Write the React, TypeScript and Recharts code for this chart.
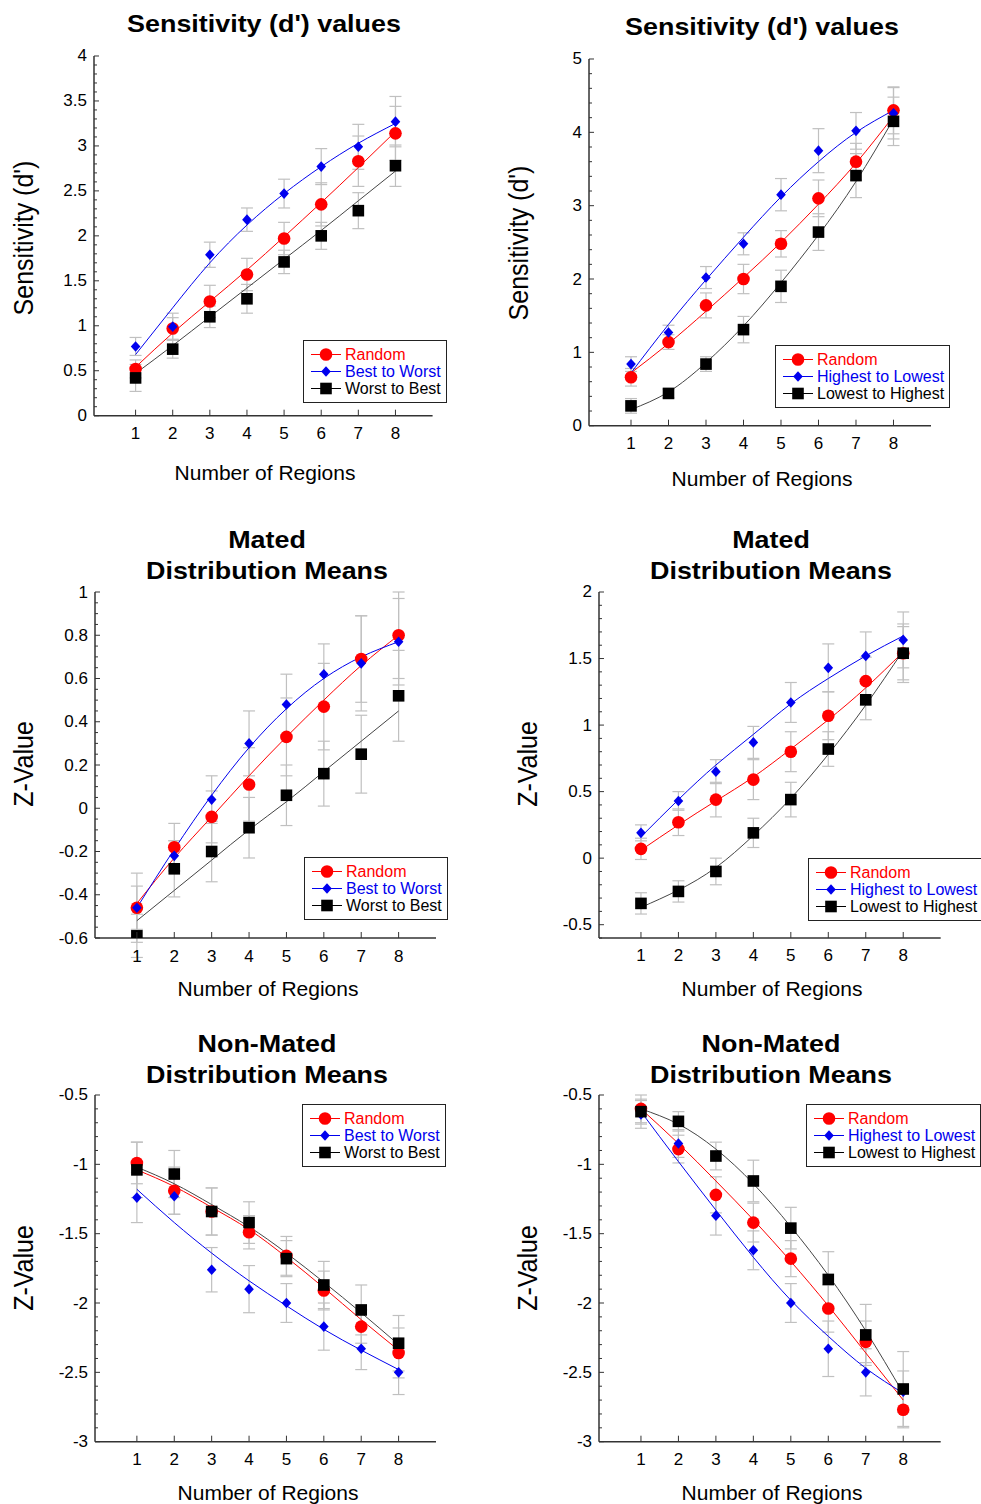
import React from "react";
import {
  ComposedChart,
  Line,
  Scatter,
  XAxis,
  YAxis,
  ErrorBar,
  Legend,
} from "recharts";

const FONT = '"Liberation Sans", Arial, Helvetica, sans-serif';
const RED = "#ff0000";
const BLUE = "#0000ee";
const BLACK = "#000000";
const ERR = "#c0c0c0";
const AXIS = "#333333";

const regions = [1, 2, 3, 4, 5, 6, 7, 8];

// Sensitivity, best / worst ordering
const aRandom = [0.52, 0.97, 1.27, 1.57, 1.97, 2.35, 2.83, 3.14];
const aRandomErr = [0.1, 0.12, 0.18, 0.18, 0.18, 0.24, 0.28, 0.3];
const aRandomFit = [0.54, 0.92, 1.27, 1.62, 1.99, 2.37, 2.76, 3.16];
const aBest = [0.77, 0.99, 1.79, 2.18, 2.47, 2.77, 2.99, 3.27];
const aBestErr = [0.1, 0.15, 0.14, 0.13, 0.16, 0.2, 0.25, 0.28];
const aBestFit = [0.68, 1.2, 1.7, 2.12, 2.47, 2.77, 3.03, 3.25];
const aWorst = [0.42, 0.74, 1.1, 1.3, 1.71, 2.0, 2.28, 2.78];
const aWorstErr = [0.15, 0.1, 0.12, 0.16, 0.13, 0.15, 0.2, 0.23];
const aWorstFit = [0.47, 0.78, 1.1, 1.42, 1.74, 2.06, 2.39, 2.72];

// Sensitivity, highest / lowest ordering
const bRandom = [0.66, 1.14, 1.64, 2.0, 2.48, 3.1, 3.6, 4.3];
const bRandomErr = [0.12, 0.1, 0.17, 0.2, 0.18, 0.25, 0.25, 0.32];
const bRandomFit = [0.72, 1.12, 1.56, 2.02, 2.5, 3.02, 3.58, 4.22];
const bHigh = [0.84, 1.27, 2.02, 2.48, 3.15, 3.75, 4.02, 4.26];
const bHighErr = [0.1, 0.1, 0.15, 0.15, 0.22, 0.3, 0.25, 0.35];
const bHighFit = [0.72, 1.38, 1.99, 2.57, 3.12, 3.6, 4.0, 4.3];
const bLow = [0.27, 0.44, 0.84, 1.31, 1.9, 2.64, 3.41, 4.15];
const bLowErr = [0.1, 0.06, 0.1, 0.18, 0.22, 0.25, 0.3, 0.33];
const bLowFit = [0.22, 0.46, 0.86, 1.36, 1.95, 2.6, 3.33, 4.18];

// Mated means, best / worst
const cRandom = [-0.46, -0.18, -0.04, 0.11, 0.33, 0.47, 0.69, 0.8];
const cRandomErr = [0.16, 0.11, 0.12, 0.17, 0.18, 0.2, 0.2, 0.2];
const cRandomFit = [-0.44, -0.23, -0.04, 0.15, 0.33, 0.5, 0.66, 0.8];
const cBest = [-0.46, -0.22, 0.04, 0.3, 0.48, 0.62, 0.67, 0.77];
const cBestErr = [0.1, 0.07, 0.11, 0.15, 0.14, 0.14, 0.22, 0.2];
const cBestFit = [-0.46, -0.19, 0.06, 0.28, 0.46, 0.6, 0.7, 0.77];
const cWorst = [-0.59, -0.28, -0.2, -0.09, 0.06, 0.16, 0.25, 0.52];
const cWorstErr = [0.1, 0.13, 0.14, 0.14, 0.14, 0.15, 0.18, 0.21];
const cWorstFit = [-0.52, -0.38, -0.24, -0.1, 0.03, 0.17, 0.31, 0.45];

// Mated means, highest / lowest
const dRandom = [0.07, 0.27, 0.44, 0.59, 0.8, 1.07, 1.33, 1.54];
const dRandomErr = [0.08, 0.1, 0.13, 0.15, 0.15, 0.18, 0.18, 0.2];
const dRandomFit = [0.06, 0.25, 0.43, 0.61, 0.82, 1.04, 1.28, 1.55];
const dHigh = [0.19, 0.43, 0.65, 0.87, 1.17, 1.43, 1.52, 1.64];
const dHighErr = [0.06, 0.07, 0.09, 0.12, 0.15, 0.18, 0.18, 0.21];
const dHighFit = [0.16, 0.44, 0.7, 0.93, 1.16, 1.35, 1.52, 1.67];
const dLow = [-0.34, -0.25, -0.1, 0.19, 0.44, 0.82, 1.19, 1.54];
const dLowErr = [0.08, 0.08, 0.1, 0.11, 0.13, 0.13, 0.15, 0.22];
const dLowFit = [-0.37, -0.24, -0.07, 0.17, 0.45, 0.78, 1.15, 1.56];

// Non-mated means, best / worst
const eRandom = [-0.99, -1.19, -1.34, -1.49, -1.66, -1.91, -2.17, -2.36];
const eRandomErr = [0.15, 0.17, 0.17, 0.12, 0.14, 0.14, 0.12, 0.18];
const eRandomFit = [-1.04, -1.16, -1.31, -1.47, -1.67, -1.89, -2.12, -2.34];
const eBest = [-1.24, -1.23, -1.76, -1.9, -2.0, -2.17, -2.33, -2.5];
const eBestErr = [0.18, 0.13, 0.16, 0.17, 0.14, 0.17, 0.15, 0.16];
const eBestFit = [-1.18, -1.42, -1.64, -1.84, -2.02, -2.19, -2.34, -2.48];
const eWorst = [-1.04, -1.07, -1.34, -1.42, -1.68, -1.87, -2.05, -2.29];
const eWorstErr = [0.2, 0.17, 0.17, 0.15, 0.13, 0.17, 0.18, 0.2];
const eWorstFit = [-1.02, -1.14, -1.29, -1.45, -1.64, -1.85, -2.07, -2.3];

// Non-mated means, highest / lowest
const fRandom = [-0.6, -0.89, -1.22, -1.42, -1.68, -2.04, -2.28, -2.77];
const fRandomErr = [0.1, 0.1, 0.13, 0.14, 0.13, 0.17, 0.15, 0.13];
const fRandomFit = [-0.6, -0.85, -1.12, -1.4, -1.7, -2.02, -2.36, -2.7];
const fHigh = [-0.64, -0.85, -1.37, -1.62, -2.0, -2.33, -2.5, -2.64];
const fHighErr = [0.1, 0.1, 0.14, 0.14, 0.14, 0.2, 0.17, 0.15];
const fHighFit = [-0.62, -0.98, -1.33, -1.67, -1.98, -2.24, -2.47, -2.65];
const fLow = [-0.62, -0.69, -0.94, -1.12, -1.46, -1.83, -2.23, -2.62];
const fLowErr = [0.09, 0.07, 0.1, 0.15, 0.15, 0.2, 0.22, 0.27];
const fLowFit = [-0.6, -0.71, -0.89, -1.14, -1.45, -1.8, -2.2, -2.65];

// y tick labels
const sensTicksA = [0, 0.5, 1, 1.5, 2, 2.5, 3, 3.5, 4];
const sensTicksB = [0, 1, 2, 3, 4, 5];
const matedTicksC = [-0.6, -0.4, -0.2, 0, 0.2, 0.4, 0.6, 0.8, 1];
const matedTicksD = [-0.5, 0, 0.5, 1, 1.5, 2];
const nonMatedTicks = [-3, -2.5, -2, -1.5, -1, -0.5];

type Kind = "circle" | "diamond" | "square";
type Series = {
  name: string;
  color: string;
  fitColor: string;
  kind: Kind;
  values: number[];
  errors: number[];
  fit: number[];
};

function marker(kind: Kind, cx: number, cy: number, color: string) {
  if (kind === "circle") return <circle cx={cx} cy={cy} r={6.3} fill={color} />;
  if (kind === "diamond")
    return (
      <polygon
        points={`${cx},${cy - 5.3} ${cx + 4.8},${cy} ${cx},${cy + 5.3} ${cx - 4.8},${cy}`}
        fill={color}
      />
    );
  return <rect x={cx - 5.8} y={cy - 5.8} width={11.6} height={11.6} fill={color} />;
}

const fmt = (v: number) => (Math.abs(v) < 1e-9 ? "0" : String(v));

function YTick(props: any) {
  const { x, y, payload, major } = props;
  const v = payload.value;
  const isMajor = major.some((m: number) => Math.abs(m - v) < 1e-6);
  return (
    <g>
      <line x1={x} x2={x + (isMajor ? 5 : 3)} y1={y} y2={y} stroke={AXIS} />
      {isMajor && (
        <text
          x={x - 7}
          y={y}
          textAnchor="end"
          dominantBaseline="central"
          fontSize={17}
          fontFamily={FONT}
          fill="#000"
        >
          {fmt(v)}
        </text>
      )}
    </g>
  );
}

function XTick(props: any) {
  const { x, y, payload } = props;
  return (
    <g>
      <line x1={x} x2={x} y1={y} y2={y - 6} stroke={AXIS} />
      <text
        x={x}
        y={y + 18}
        textAnchor="middle"
        dominantBaseline="central"
        fontSize={17}
        fontFamily={FONT}
        fill="#000"
      >
        {payload.value}
      </text>
    </g>
  );
}

function LegendBox({ series }: { series: Series[] }) {
  return (
    <div
      style={{
        display: "inline-block",
        border: "1.5px solid #222",
        background: "#fff",
        padding: "5px 5px 5px 6px",
        fontFamily: FONT,
        fontSize: 16,
        lineHeight: "17px",
      }}
    >
      {series.map((s) => (
        <div key={s.name} style={{ display: "flex", alignItems: "center", height: 17 }}>
          <svg width={32} height={17}>
            <line x1={1} x2={31} y1={8.5} y2={8.5} stroke={s.color} strokeWidth={1} />
            {marker(s.kind, 16, 8.5, s.color)}
          </svg>
          <span style={{ color: s.color, marginLeft: 3, whiteSpace: "nowrap" }}>{s.name}</span>
        </div>
      ))}
    </div>
  );
}

type PanelProps = {
  box: { l: number; t: number; r: number; b: number };
  yDomain: [number, number];
  yMajor: number[];
  yMinorStep: number;
  series: Series[];
  title: string[];
  titleAt: [number, number];
  yLabel: string;
  yLabelAt: [number, number];
  xLabelAt: [number, number];
  legendAt: [number, number];
};

function Panel(p: PanelProps) {
  const PAD_L = 60;
  const PAD_T = 10;
  const PAD_R = 70;
  const PAD_B = 40;
  const w = p.box.r - p.box.l;
  const h = p.box.b - p.box.t;
  const chartLeft = p.box.l - PAD_L;
  const chartTop = p.box.t - PAD_T;

  const rows = regions.map((x, i) => {
    const row: Record<string, number> = { x };
    p.series.forEach((s, k) => {
      row[`v${k}`] = s.values[i];
      row[`e${k}`] = s.errors[i];
      row[`f${k}`] = s.fit[i];
    });
    return row;
  });

  const n = Math.round((p.yDomain[1] - p.yDomain[0]) / p.yMinorStep);
  const yTicks = Array.from({ length: n + 1 }, (_, i) =>
    Number((p.yDomain[0] + i * p.yMinorStep).toFixed(3))
  );

  return (
    <>
      <div style={{ position: "absolute", left: chartLeft, top: chartTop }}>
        <ComposedChart
          width={w + PAD_L + PAD_R}
          height={h + PAD_T + PAD_B}
          data={rows}
          margin={{ top: PAD_T, right: PAD_R, bottom: PAD_B - 30, left: PAD_L - 50 }}
        >
          <XAxis
            dataKey="x"
            type="number"
            domain={[-0.12, 9]}
            ticks={regions}
            interval={0}
            allowDataOverflow
            height={30}
            tickSize={0}
            tickMargin={0}
            tickLine={false}
            axisLine={{ stroke: AXIS, strokeWidth: 1.5 }}
            tick={(t: any) => <XTick {...t} />}
          />
          <XAxis
            xAxisId="top"
            orientation="top"
            type="number"
            domain={[0, 1]}
            height={0}
            tick={false}
            tickLine={false}
            axisLine={{ stroke: AXIS, strokeWidth: 1.5 }}
          />
          <YAxis
            type="number"
            domain={p.yDomain}
            ticks={yTicks}
            interval={0}
            allowDataOverflow
            width={50}
            tickSize={0}
            tickMargin={0}
            tickLine={false}
            axisLine={{ stroke: AXIS, strokeWidth: 1.5 }}
            tick={(t: any) => <YTick {...t} major={p.yMajor} />}
          />
          <YAxis
            yAxisId="right"
            orientation="right"
            type="number"
            domain={[0, 1]}
            width={0}
            tick={false}
            tickLine={false}
            axisLine={{ stroke: AXIS, strokeWidth: 1.5 }}
          />
          {p.series.map((s, k) => (
            <Scatter
              key={`err${k}`}
              dataKey={`v${k}`}
              isAnimationActive={false}
              shape={() => <g />}
            >
              <ErrorBar
                dataKey={`e${k}`}
                direction="y"
                width={6}
                stroke={ERR}
                strokeWidth={1.2}
                isAnimationActive={false}
              />
            </Scatter>
          ))}
          {p.series.map((s, k) => (
            <Line
              key={`fit${k}`}
              dataKey={`f${k}`}
              type="natural"
              stroke={s.fitColor}
              strokeWidth={1}
              dot={false}
              activeDot={false}
              isAnimationActive={false}
            />
          ))}
          {p.series.map((s, k) => (
            <Scatter
              key={`pt${k}`}
              dataKey={`v${k}`}
              isAnimationActive={false}
              shape={(sp: any) => marker(s.kind, sp.cx, sp.cy, s.color)}
            />
          ))}
          <Legend
            layout="horizontal"
            verticalAlign="middle"
            align="center"
            wrapperStyle={{
              left: p.legendAt[0] - chartLeft,
              top: p.legendAt[1] - chartTop,
              width: "auto",
            }}
            content={() => <LegendBox series={p.series} />}
          />
        </ComposedChart>
      </div>
      {p.title.map((line, k) => (
        <div
          key={line}
          style={{
            position: "absolute",
            left: p.titleAt[0],
            top: p.titleAt[1] + k * 31,
            transform: "translate(-50%, -50%) scaleX(1.12)",
            fontFamily: FONT,
            fontWeight: 700,
            fontSize: 24,
            lineHeight: 1,
            whiteSpace: "nowrap",
          }}
        >
          {line}
        </div>
      ))}
      <div
        style={{
          position: "absolute",
          left: p.yLabelAt[0],
          top: p.yLabelAt[1],
          transform: "translate(-50%, -50%) scaleX(1.1) rotate(-90deg)",
          fontFamily: FONT,
          fontSize: 25,
          lineHeight: 1,
          whiteSpace: "nowrap",
        }}
      >
        {p.yLabel}
      </div>
      <div
        style={{
          position: "absolute",
          left: p.xLabelAt[0],
          top: p.xLabelAt[1],
          transform: "translate(-50%, -50%)",
          fontFamily: FONT,
          fontSize: 21,
          lineHeight: 1,
          whiteSpace: "nowrap",
        }}
      >
        Number of Regions
      </div>
    </>
  );
}

const bestWorst = (
  r: number[], rE: number[], rF: number[],
  b: number[], bE: number[], bF: number[],
  w: number[], wE: number[], wF: number[]
): Series[] => [
  { name: "Random", color: RED, fitColor: RED, kind: "circle", values: r, errors: rE, fit: rF },
  { name: "Best to Worst", color: BLUE, fitColor: BLUE, kind: "diamond", values: b, errors: bE, fit: bF },
  { name: "Worst to Best", color: BLACK, fitColor: "#444", kind: "square", values: w, errors: wE, fit: wF },
];

const highLow = (
  r: number[], rE: number[], rF: number[],
  h: number[], hE: number[], hF: number[],
  l: number[], lE: number[], lF: number[]
): Series[] => [
  { name: "Random", color: RED, fitColor: RED, kind: "circle", values: r, errors: rE, fit: rF },
  { name: "Highest to Lowest", color: BLUE, fitColor: BLUE, kind: "diamond", values: h, errors: hE, fit: hF },
  { name: "Lowest to Highest", color: BLACK, fitColor: "#444", kind: "square", values: l, errors: lE, fit: lF },
];

const panels: PanelProps[] = [
  {
    box: { l: 93.7, t: 56, r: 432.3, b: 415.7 },
    yDomain: [0, 4],
    yMajor: sensTicksA,
    yMinorStep: 0.1,
    series: bestWorst(aRandom, aRandomErr, aRandomFit, aBest, aBestErr, aBestFit, aWorst, aWorstErr, aWorstFit),
    title: ["Sensitivity (d') values"],
    titleAt: [264, 24],
    yLabel: "Sensitivity (d')",
    yLabelAt: [24, 238],
    xLabelAt: [265, 472],
    legendAt: [303, 340],
  },
  {
    box: { l: 589.3, t: 59, r: 931.3, b: 425.7 },
    yDomain: [0, 5],
    yMajor: sensTicksB,
    yMinorStep: 0.2,
    series: highLow(bRandom, bRandomErr, bRandomFit, bHigh, bHighErr, bHighFit, bLow, bLowErr, bLowFit),
    title: ["Sensitivity (d') values"],
    titleAt: [762, 27],
    yLabel: "Sensitivity (d')",
    yLabelAt: [519, 243],
    xLabelAt: [762, 478],
    legendAt: [775, 345],
  },
  {
    box: { l: 95, t: 591.7, r: 436, b: 937.7 },
    yDomain: [-0.6, 1],
    yMajor: matedTicksC,
    yMinorStep: 0.05,
    series: bestWorst(cRandom, cRandomErr, cRandomFit, cBest, cBestErr, cBestFit, cWorst, cWorstErr, cWorstFit),
    title: ["Mated", "Distribution Means"],
    titleAt: [267, 540],
    yLabel: "Z-Value",
    yLabelAt: [24, 764],
    xLabelAt: [268, 988],
    legendAt: [304, 857],
  },
  {
    box: { l: 599, t: 591.7, r: 940.7, b: 937.7 },
    yDomain: [-0.6, 2],
    yMajor: matedTicksD,
    yMinorStep: 0.1,
    series: highLow(dRandom, dRandomErr, dRandomFit, dHigh, dHighErr, dHighFit, dLow, dLowErr, dLowFit),
    title: ["Mated", "Distribution Means"],
    titleAt: [771, 540],
    yLabel: "Z-Value",
    yLabelAt: [528, 764],
    xLabelAt: [772, 988],
    legendAt: [808, 858],
  },
  {
    box: { l: 95, t: 1095, r: 436, b: 1441.7 },
    yDomain: [-3, -0.5],
    yMajor: nonMatedTicks,
    yMinorStep: 0.1,
    series: bestWorst(eRandom, eRandomErr, eRandomFit, eBest, eBestErr, eBestFit, eWorst, eWorstErr, eWorstFit),
    title: ["Non-Mated", "Distribution Means"],
    titleAt: [267, 1044],
    yLabel: "Z-Value",
    yLabelAt: [24, 1268],
    xLabelAt: [268, 1492],
    legendAt: [302, 1104],
  },
  {
    box: { l: 599, t: 1095, r: 940.7, b: 1441.7 },
    yDomain: [-3, -0.5],
    yMajor: nonMatedTicks,
    yMinorStep: 0.1,
    series: highLow(fRandom, fRandomErr, fRandomFit, fHigh, fHighErr, fHighFit, fLow, fLowErr, fLowFit),
    title: ["Non-Mated", "Distribution Means"],
    titleAt: [771, 1044],
    yLabel: "Z-Value",
    yLabelAt: [528, 1268],
    xLabelAt: [772, 1492],
    legendAt: [806, 1104],
  },
];

export default function App() {
  return (
    <div
      style={{
        position: "absolute",
        left: 0,
        top: 0,
        width: 981,
        height: 1504,
        overflow: "hidden",
        background: "#fff",
      }}
    >
      {panels.map((p, i) => (
        <Panel key={i} {...p} />
      ))}
    </div>
  );
}
